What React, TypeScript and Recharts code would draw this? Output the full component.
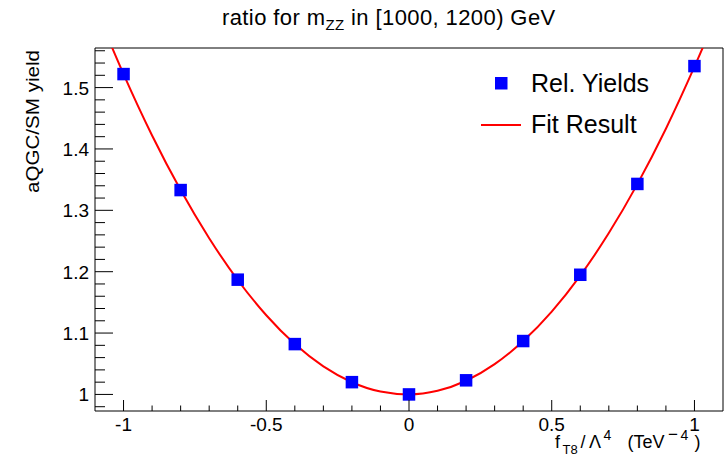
import React from 'react';
import { ComposedChart, Line, Scatter, XAxis, YAxis, ReferenceArea } from 'recharts';

// f_T8 / Lambda^4 values of the simulated points
const couplings = [-1.0, -0.8, -0.6, -0.4, -0.2, 0.0, 0.2, 0.4, 0.6, 0.8, 1.0];
// relative yields aQGC/SM
const relYields = [1.522, 1.333, 1.187, 1.082, 1.020, 1.000, 1.023, 1.087, 1.195, 1.343, 1.535];

const fitX = [-1.1, -1.05, -1.0, -0.9, -0.8, -0.7, -0.6, -0.5, -0.4, -0.3, -0.2, -0.1, 0.0, 0.1, 0.2, 0.3, 0.4, 0.5, 0.6, 0.7, 0.8, 0.9, 1.0, 1.05, 1.1];
const fitY = [1.632, 1.576, 1.522, 1.422, 1.333, 1.2545, 1.1865, 1.129, 1.082, 1.0457, 1.0199, 1.0047, 1.0, 1.0059, 1.0223, 1.0493, 1.0869, 1.135, 1.1937, 1.2629, 1.3427, 1.433, 1.534, 1.588, 1.6455];

const xTicks = [-1.0, -0.9, -0.8, -0.7, -0.6, -0.5, -0.4, -0.3, -0.2, -0.1, 0.0, 0.1, 0.2, 0.3, 0.4, 0.5, 0.6, 0.7, 0.8, 0.9, 1.0];
const xMajorTicks = [-1, -0.5, 0, 0.5, 1];
const yTicks = [0.98, 1.0, 1.02, 1.04, 1.06, 1.08, 1.1, 1.12, 1.14, 1.16, 1.18, 1.2, 1.22, 1.24, 1.26, 1.28, 1.3, 1.32, 1.34, 1.36, 1.38, 1.4, 1.42, 1.44, 1.46, 1.48, 1.5, 1.52, 1.54, 1.56];
const yMajorTicks = [1.0, 1.1, 1.2, 1.3, 1.4, 1.5];

const xDomain: [number, number] = [-1.1, 1.1];
const yDomain: [number, number] = [0.973, 1.5645];

const FONT = '"Liberation Sans", Arial, Helvetica, sans-serif';

const pointData = couplings.map((x, i) => ({ x, y: relYields[i] }));
const fitData = fitX.map((x, i) => ({ x, y: fitY[i] }));

const isIn = (v: number, list: number[]) => list.some((m) => Math.abs(m - v) < 1e-6);
const fmt = (v: number) => String(Math.round(v * 10) / 10);

const XTick = (props: any) => {
  const { x, y, payload } = props;
  const v = payload.value as number;
  const major = isIn(v, xMajorTicks);
  return (
    <g>
      <line x1={x} x2={x} y1={y} y2={y - (major ? 11 : 5.5)} stroke="#000" strokeWidth={1} />
      {major && (
        <text x={x} y={y + 20} textAnchor="middle" fontSize={19} fontFamily={FONT} fill="#000">
          {fmt(v)}
        </text>
      )}
    </g>
  );
};

const YTick = (props: any) => {
  const { x, y, payload } = props;
  const v = payload.value as number;
  const major = isIn(v, yMajorTicks);
  return (
    <g>
      <line x1={x} x2={x + (major ? 18 : 10)} y1={y} y2={y} stroke="#000" strokeWidth={1} />
      {major && (
        <text x={x - 6} y={y + 7} textAnchor="end" fontSize={19} fontFamily={FONT} fill="#000">
          {fmt(v)}
        </text>
      )}
    </g>
  );
};

const Square = (props: any) => {
  const { cx, cy } = props;
  return <rect x={cx - 6.25} y={cy - 6.25} width={12.5} height={12.5} fill="#0000ff" />;
};

export default function App() {
  return (
    <div style={{ position: 'absolute', left: 0, top: 0, width: 724, height: 457, background: '#fff' }}>
      <ComposedChart width={724} height={457} margin={{ top: 48, right: 1, bottom: 0, left: 0 }}>
        <XAxis
          type="number"
          dataKey="x"
          domain={xDomain}
          allowDataOverflow
          ticks={xTicks}
          interval={0}
          tick={<XTick />}
          tickSize={0}
          tickMargin={0}
          tickLine={false}
          axisLine={false}
          height={46}
        />
        <YAxis
          type="number"
          dataKey="y"
          domain={yDomain}
          allowDataOverflow
          ticks={yTicks}
          interval={0}
          tick={<YTick />}
          tickSize={0}
          tickMargin={0}
          tickLine={false}
          axisLine={false}
          width={95}
        />
        <ReferenceArea
          x1={xDomain[0]}
          x2={xDomain[1]}
          y1={yDomain[0]}
          y2={yDomain[1]}
          fill="none"
          fillOpacity={0}
          stroke="#000"
          strokeWidth={1}
          ifOverflow="visible"
        />
        <Scatter data={pointData} dataKey="y" shape={<Square />} isAnimationActive={false} legendType="none" />
        <Line
          data={fitData}
          dataKey="y"
          type="monotone"
          stroke="#ff0000"
          strokeWidth={2}
          dot={false}
          activeDot={false}
          isAnimationActive={false}
          legendType="none"
        />
      </ComposedChart>
      <svg
        width={724}
        height={457}
        style={{ position: 'absolute', left: 0, top: 0, pointerEvents: 'none' }}
        fontFamily={FONT}
      >
        <text x={222} y={25} fontSize={22} fill="#000" letterSpacing={0.4}>
          ratio for m
          <tspan fontSize={15} dy={4.5}>ZZ</tspan>
          <tspan dy={-4.5}> in [1000, 1200) GeV</tspan>
        </text>
        <text
          x={39}
          y={50}
          transform="rotate(-90 39 50)"
          textAnchor="end"
          fontSize={18}
          fill="#000"
          textLength={143}
          lengthAdjust="spacingAndGlyphs"
        >
          aQGC/SM yield
        </text>
        <text fontSize={18} fill="#000">
          <tspan x={555} y={448}>f</tspan>
          <tspan x={562.5} y={453.5} fontSize={13}>T8</tspan>
          <tspan x={580.5} y={448}>/</tspan>
          <tspan x={589} y={448}>Λ</tspan>
          <tspan x={603.5} y={440} fontSize={14}>4</tspan>
          <tspan x={627.5} y={448}>(TeV</tspan>
          <tspan x={668} y={440} fontSize={17}>−</tspan>
          <tspan x={680.5} y={440} fontSize={14}>4</tspan>
          <tspan x={694.5} y={448}>)</tspan>
        </text>
        <rect x={495} y={77} width={12.5} height={12.5} fill="#0000ff" />
        <text x={531} y={92} fontSize={25} fill="#000">Rel. Yields</text>
        <line x1={481} x2={521} y1={125} y2={125} stroke="#ff0000" strokeWidth={2} />
        <text x={531} y={133} fontSize={25} fill="#000">Fit Result</text>
      </svg>
    </div>
  );
}
